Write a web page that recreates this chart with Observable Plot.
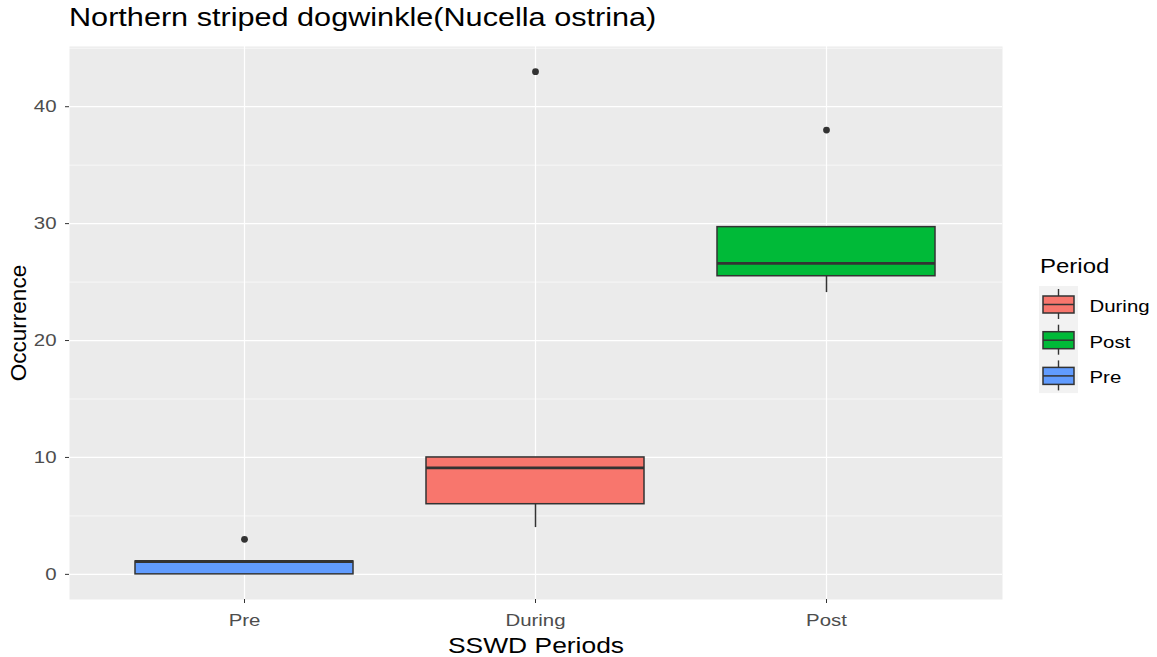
<!DOCTYPE html>
<html>
<head>
<meta charset="utf-8">
<script src="https://cdn.jsdelivr.net/npm/d3@7"></script>
<script src="https://cdn.jsdelivr.net/npm/@observablehq/plot@0.6"></script>
<style>
  html, body { margin: 0; padding: 0; background: #fff; }
  #wrap { position: relative; width: 1157px; height: 657px; overflow: hidden; font-family: "Liberation Sans", Arial, sans-serif; }
  #title { height: 46px; box-sizing: border-box; padding-top: 5px; padding-left: 69px; font-size: 25px; line-height: 25px; color: #000; white-space: nowrap; }
  #title span { display: inline-block; transform-origin: left center; }
  #legend { position: absolute; left: 1030px; top: 240px; }
</style>
</head>
<body>
<div id="wrap">
  <div id="title"><span>Northern striped dogwinkle(Nucella ostrina)</span></div>
  <div id="chart"></div>
  <svg id="legend" width="127" height="170"></svg>
</div>
<script>
// ---- data ----
const periods = ["Pre", "During", "Post"];
const whiskerLow = [0, 4, 24.1];
const q1 = [0, 6, 25.5];
const median = [1.1, 9.1, 26.6];
const q3 = [1.1, 10, 29.7];
const whiskerHigh = [1.1, 10, 29.7];
const outlierPeriod = ["Pre", "During", "Post"];
const outlierValue = [3, 43, 38];
const fillColors = ["#619CFF", "#F8766D", "#00BA38"];
const yMajorTicks = [0, 10, 20, 30, 40];
const yMinorTicks = [5, 15, 25, 35, 45];
const legendOrder = ["During", "Post", "Pre"];
const xLabel = "SSWD Periods";
const yLabel = "Occurrence";
const legendTitle = "Period";

const STRETCH = 1.2;

const boxes = periods.map((p, i) => ({
  period: p, lo: whiskerLow[i], q1: q1[i], med: median[i], q3: q3[i], hi: whiskerHigh[i], fill: fillColors[i]
}));
const outliers = outlierPeriod.map((p, i) => ({period: p, value: outlierValue[i]}));
const colorOf = Object.fromEntries(periods.map((p, i) => [p, fillColors[i]]));

const chart = Plot.plot({
  width: 1157,
  height: 611,
  marginTop: 0,
  marginLeft: 69,
  marginRight: 155,
  marginBottom: 58,
  style: {fontFamily: "'Liberation Sans', Arial, sans-serif", background: "transparent"},
  x: {type: "band", domain: periods, paddingInner: 0.25, paddingOuter: 0.225, label: null},
  y: {domain: [-2.15, 45.15], label: null},
  marks: [
    Plot.frame({fill: "#EBEBEB", stroke: null}),
    Plot.gridY(yMinorTicks, {stroke: "#fff", strokeOpacity: 1, strokeWidth: 0.6}),
    Plot.gridY(yMajorTicks, {stroke: "#fff", strokeOpacity: 1, strokeWidth: 1.2}),
    Plot.gridX(periods, {stroke: "#fff", strokeOpacity: 1, strokeWidth: 1.2}),
    Plot.ruleX(boxes, {x: "period", y1: "lo", y2: "q1", stroke: "#333", strokeWidth: 1.5}),
    Plot.ruleX(boxes, {x: "period", y1: "q3", y2: "hi", stroke: "#333", strokeWidth: 1.5}),
    Plot.barY(boxes, {x: "period", y1: "q1", y2: "q3", fill: "fill", stroke: "#333", strokeWidth: 1.5}),
    Plot.tickY(boxes, {x: "period", y: "med", stroke: "#333", strokeWidth: 2.8}),
    Plot.dot(outliers, {x: "period", y: "value", r: 3.4, fill: "#333", stroke: null}),
    Plot.axisY(yMajorTicks, {tickSize: 4, tickPadding: 9, fontSize: 17, color: "#4D4D4D", stroke: "#333", label: null}),
    Plot.axisX(periods, {tickSize: 4, tickPadding: 10, fontSize: 17, color: "#4D4D4D", stroke: "#333", label: null}),
    Plot.text([xLabel], {text: d => d, frameAnchor: "bottom", lineAnchor: "middle", textAnchor: "middle", dy: 46, fontSize: 22, fill: "#000"}),
    Plot.text([yLabel], {text: d => d, frameAnchor: "left", lineAnchor: "middle", textAnchor: "middle", dx: -51, rotate: -90, fontSize: 22.5, fill: "#000"})
  ]
});
document.getElementById("chart").appendChild(chart);

// horizontal stretch of non-rotated text to mimic the reference's glyph widths
function stretchTexts(root, factor) {
  root.querySelectorAll("text").forEach(t => {
    if (t.textContent === yLabel) return;
    const len = t.getComputedTextLength();
    if (len > 0) {
      t.setAttribute("textLength", (len * factor).toFixed(2));
      t.setAttribute("lengthAdjust", "spacingAndGlyphs");
    }
  });
}
stretchTexts(chart, STRETCH);

// title stretch
document.querySelector("#title span").style.transform = "scaleX(1.225)";

// ---- legend ----
const leg = d3.select("#legend");
leg.append("text").attr("x", 10).attr("y", 33).attr("font-size", 20)
  .attr("font-family", "'Liberation Sans', Arial, sans-serif").attr("fill", "#000").text(legendTitle);
const keyH = 35.7, keyTop0 = 46;
leg.append("rect").attr("x", 9).attr("y", keyTop0).attr("width", 39).attr("height", keyH * legendOrder.length).attr("fill", "#F2F2F2");
legendOrder.forEach((p, i) => {
  const top = keyTop0 + i * keyH;
  const g = leg.append("g");
  g.append("line").attr("x1", 28.5).attr("x2", 28.5).attr("y1", top + 3).attr("y2", top + 33).attr("stroke", "#333").attr("stroke-width", 1.4);
  g.append("rect").attr("x", 13).attr("y", top + 10).attr("width", 31).attr("height", 17)
    .attr("fill", colorOf[p]).attr("stroke", "#333").attr("stroke-width", 1.5);
  g.append("line").attr("x1", 13).attr("x2", 44).attr("y1", top + 18.5).attr("y2", top + 18.5).attr("stroke", "#333").attr("stroke-width", 1.5);
  g.append("text").attr("x", 59.5).attr("y", top + 20).attr("dy", "0.35em").attr("font-size", 17)
    .attr("font-family", "'Liberation Sans', Arial, sans-serif").attr("fill", "#000").text(p);
});
stretchTexts(document.getElementById("legend"), STRETCH);
</script>
</body>
</html>
